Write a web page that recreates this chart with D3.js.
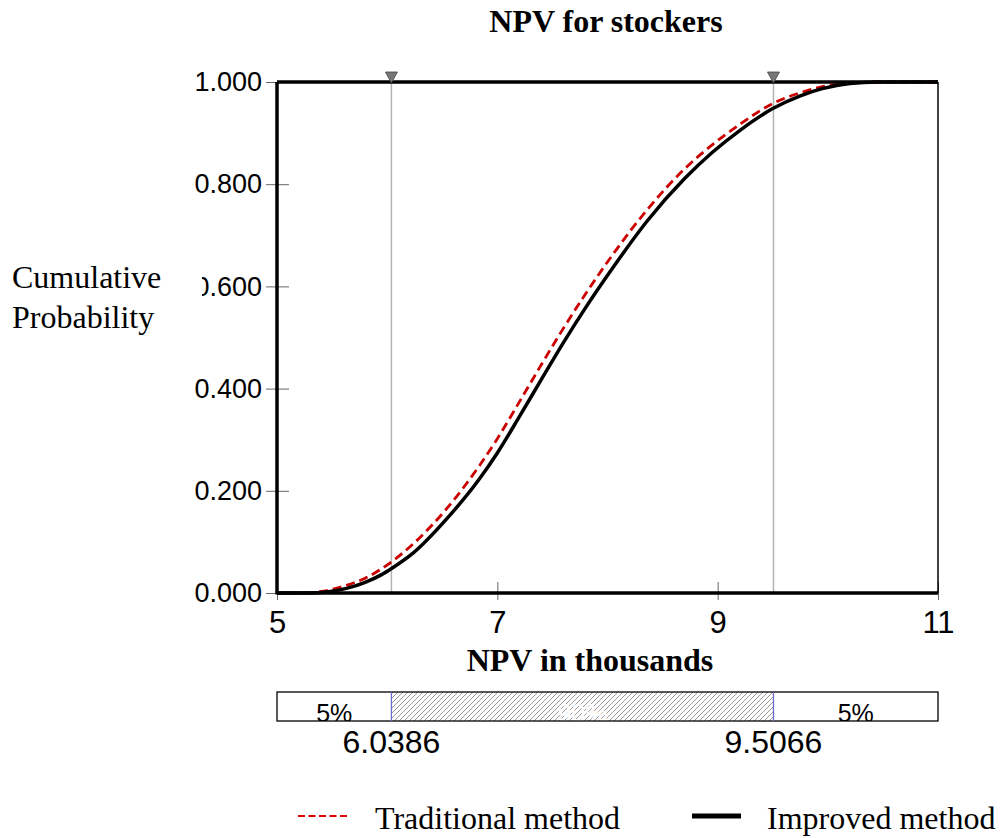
<!DOCTYPE html>
<html>
<head>
<meta charset="utf-8">
<script src="https://cdn.jsdelivr.net/npm/d3@7"></script>
<style>
  html, body { margin: 0; padding: 0; background: #fff; }
  svg { display: block; }
</style>
</head>
<body>
<svg id="chart" width="1003" height="838"></svg>
<script>
// Cumulative distribution of NPV (thousands) for the two methods
const npvTraditional = [5.0, 5.25, 5.4, 5.6, 5.8, 6.04, 6.24, 6.54, 6.84, 7.0, 7.2, 7.4, 7.6, 7.8, 8.05, 8.36, 8.7, 8.95, 9.2, 9.5, 9.75, 9.95, 10.2, 10.4, 11.0];
const cumTraditional = [0, 0, 0.003, 0.013, 0.029, 0.061, 0.097, 0.165, 0.25, 0.302, 0.374, 0.447, 0.518, 0.585, 0.663, 0.75, 0.83, 0.877, 0.917, 0.958, 0.979, 0.991, 0.998, 1.0, 1.0];

const npvImproved = [5.0, 5.3, 5.45, 5.63, 5.8, 5.95, 6.04, 6.24, 6.54, 6.84, 7.0, 7.2, 7.4, 7.6, 7.8, 8.05, 8.36, 8.7, 8.95, 9.2, 9.5, 9.75, 9.95, 10.2, 10.45, 11.0];
const cumImproved = [0, 0, 0.002, 0.009, 0.021, 0.036, 0.048, 0.079, 0.145, 0.224, 0.274, 0.345, 0.418, 0.49, 0.558, 0.637, 0.728, 0.811, 0.862, 0.905, 0.948, 0.973, 0.987, 0.997, 1.0, 1.0];

// 5% / 95% percentile markers
const percentileValues = [6.0386, 9.5066];
const percentileLabels = ["6.0386", "9.5066"];
const bandLabels = ["5%", "90%", "5%"];

const xTicks = [5, 7, 9, 11];
const yTicks = [0, 0.2, 0.4, 0.6, 0.8, 1.0];

const seriesNames = ["Traditional method", "Improved method"];

const serif = "'Liberation Serif', 'Times New Roman', serif";
const sans = "'Liberation Sans', Arial, sans-serif";

const svg = d3.select("#chart");

const plot = { left: 277, right: 938, top: 82, bottom: 593 };

const x = d3.scaleLinear().domain([5, 11]).range([plot.left, plot.right]);
const y = d3.scaleLinear().domain([0, 1]).range([plot.bottom, plot.top]);

// hatch for the central 90% band
const defs = svg.append("defs");
defs.append("pattern")
  .attr("id", "hatch")
  .attr("patternUnits", "userSpaceOnUse")
  .attr("width", 5).attr("height", 5)
  .append("path")
  .attr("d", "M-1,1 l2,-2 M0,5 l5,-5 M4,6 l2,-2")
  .attr("stroke", "#9a9a9a")
  .attr("stroke-width", 1);

// title
svg.append("text")
  .attr("x", 606).attr("y", 32)
  .attr("text-anchor", "middle")
  .attr("font-family", serif).attr("font-weight", "bold").attr("font-size", 32)
  .text("NPV for stockers");

// y ticks (cross the axis) and labels
const yAxis = d3.axisLeft(y)
  .tickValues(yTicks)
  .tickFormat(d3.format(".3f"))
  .tickSize(11)
  .tickPadding(4);
const gy = svg.append("g").attr("transform", `translate(${plot.left},0)`).call(yAxis);
gy.select(".domain").remove();
gy.selectAll(".tick line").attr("stroke", "#666").attr("x2", 12).attr("x1", -11);
gy.selectAll(".tick text")
  .attr("font-family", sans).attr("font-size", 27).attr("fill", "#000")
  .attr("x", -15);

// x ticks and labels
const xAxis = d3.axisBottom(x)
  .tickValues(xTicks)
  .tickFormat(d3.format("d"))
  .tickSize(7)
  .tickPadding(11);
const gx = svg.append("g").attr("transform", `translate(0,${plot.bottom})`).call(xAxis);
gx.select(".domain").remove();
gx.selectAll(".tick line").attr("stroke", "#666").attr("y1", -11).attr("y2", 7);
gx.selectAll(".tick text")
  .attr("font-family", sans).attr("font-size", 31).attr("fill", "#000");

// percentile guide lines
percentileValues.forEach(v => {
  svg.append("line")
    .attr("x1", x(v)).attr("x2", x(v))
    .attr("y1", plot.top).attr("y2", plot.bottom)
    .attr("stroke", "#b4b4b4").attr("stroke-width", 1.5);
});

// curves
const line = d3.line()
  .x(d => x(d[0]))
  .y(d => y(d[1]))
  .curve(d3.curveMonotoneX);

const traditional = npvTraditional.map((v, i) => [v, cumTraditional[i]]);
const improved = npvImproved.map((v, i) => [v, cumImproved[i]]);

svg.append("path")
  .datum(traditional)
  .attr("d", line)
  .attr("fill", "none")
  .attr("stroke", "#cc0000")
  .attr("stroke-width", 2.8)
  .attr("stroke-dasharray", "9,5");

svg.append("path")
  .datum(improved)
  .attr("d", line)
  .attr("fill", "none")
  .attr("stroke", "#000")
  .attr("stroke-width", 3.5);

// frame
svg.append("line").attr("x1", plot.right).attr("x2", plot.right)
  .attr("y1", plot.top).attr("y2", plot.bottom)
  .attr("stroke", "#000").attr("stroke-width", 1.5);
svg.append("line").attr("x1", plot.left).attr("x2", plot.right)
  .attr("y1", plot.top).attr("y2", plot.top)
  .attr("stroke", "#000").attr("stroke-width", 3.5);
svg.append("line").attr("x1", plot.left).attr("x2", plot.right)
  .attr("y1", plot.bottom).attr("y2", plot.bottom)
  .attr("stroke", "#000").attr("stroke-width", 3.5);
svg.append("line").attr("x1", plot.left).attr("x2", plot.left)
  .attr("y1", plot.top).attr("y2", plot.bottom + 1.5)
  .attr("stroke", "#000").attr("stroke-width", 3.5);

// downward triangle markers on the top edge
percentileValues.forEach(v => {
  const cx = x(v);
  svg.append("path")
    .attr("d", `M${cx - 6},${plot.top - 10} L${cx + 6},${plot.top - 10} L${cx},${plot.top + 1} Z`)
    .attr("fill", "#777").attr("stroke", "#444").attr("stroke-width", 0.8);
});

// y axis title, on a white box
const yTitle = svg.append("g");
yTitle.append("rect")
  .attr("x", 0).attr("y", 262).attr("width", 202).attr("height", 76)
  .attr("fill", "#fff");
yTitle.append("text")
  .attr("x", 12).attr("y", 288)
  .attr("font-family", serif).attr("font-size", 32)
  .text("Cumulative");
yTitle.append("text")
  .attr("x", 12).attr("y", 328)
  .attr("font-family", serif).attr("font-size", 32)
  .text("Probability");

// x axis title
svg.append("text")
  .attr("x", 590).attr("y", 671)
  .attr("text-anchor", "middle")
  .attr("font-family", serif).attr("font-weight", "bold").attr("font-size", 32)
  .text("NPV in thousands");

// percentile band bar
const bar = { top: 692, bottom: 721 };
const edges = [5, ...percentileValues, 11];
defs.append("clipPath").attr("id", "barClip")
  .append("rect")
  .attr("x", x(5)).attr("y", bar.top)
  .attr("width", x(11) - x(5)).attr("height", bar.bottom - bar.top);
const bandG = svg.append("g");
const bandInner = bandG.append("g").attr("clip-path", "url(#barClip)");
edges.slice(0, -1).forEach((e, i) => {
  const x0 = x(e), x1 = x(edges[i + 1]);
  bandInner.append("rect")
    .attr("x", x0).attr("y", bar.top)
    .attr("width", x1 - x0).attr("height", bar.bottom - bar.top)
    .attr("fill", i === 1 ? "url(#hatch)" : "#fff");
  bandInner.append("text")
    .attr("x", (x0 + x1) / 2).attr("y", bar.bottom + 1)
    .attr("text-anchor", "middle")
    .attr("font-family", sans).attr("font-size", 25)
    .attr("fill", i === 1 ? "#fff" : "#000")
    .text(bandLabels[i]);
});
bandG.append("rect")
  .attr("x", x(5)).attr("y", bar.top)
  .attr("width", x(11) - x(5)).attr("height", bar.bottom - bar.top)
  .attr("fill", "none").attr("stroke", "#000").attr("stroke-width", 1.3);
percentileValues.forEach((v, i) => {
  bandG.append("line")
    .attr("x1", x(v)).attr("x2", x(v))
    .attr("y1", bar.top).attr("y2", bar.bottom)
    .attr("stroke", "#6a6acc").attr("stroke-width", 1.3);
  bandG.append("text")
    .attr("x", x(v)).attr("y", 753)
    .attr("text-anchor", "middle")
    .attr("font-family", sans).attr("font-size", 32)
    .text(percentileLabels[i]);
});

// legend
const legend = svg.append("g");
legend.append("line")
  .attr("x1", 298).attr("x2", 350).attr("y1", 816).attr("y2", 816)
  .attr("stroke", "#e00000").attr("stroke-width", 2)
  .attr("stroke-dasharray", "7,3.5");
legend.append("text")
  .attr("x", 375).attr("y", 829)
  .attr("font-family", serif).attr("font-size", 32)
  .text(seriesNames[0]);
legend.append("line")
  .attr("x1", 692).attr("x2", 741).attr("y1", 816).attr("y2", 816)
  .attr("stroke", "#000").attr("stroke-width", 5);
legend.append("text")
  .attr("x", 767).attr("y", 829)
  .attr("font-family", serif).attr("font-size", 32)
  .text(seriesNames[1]);
</script>
</body>
</html>
